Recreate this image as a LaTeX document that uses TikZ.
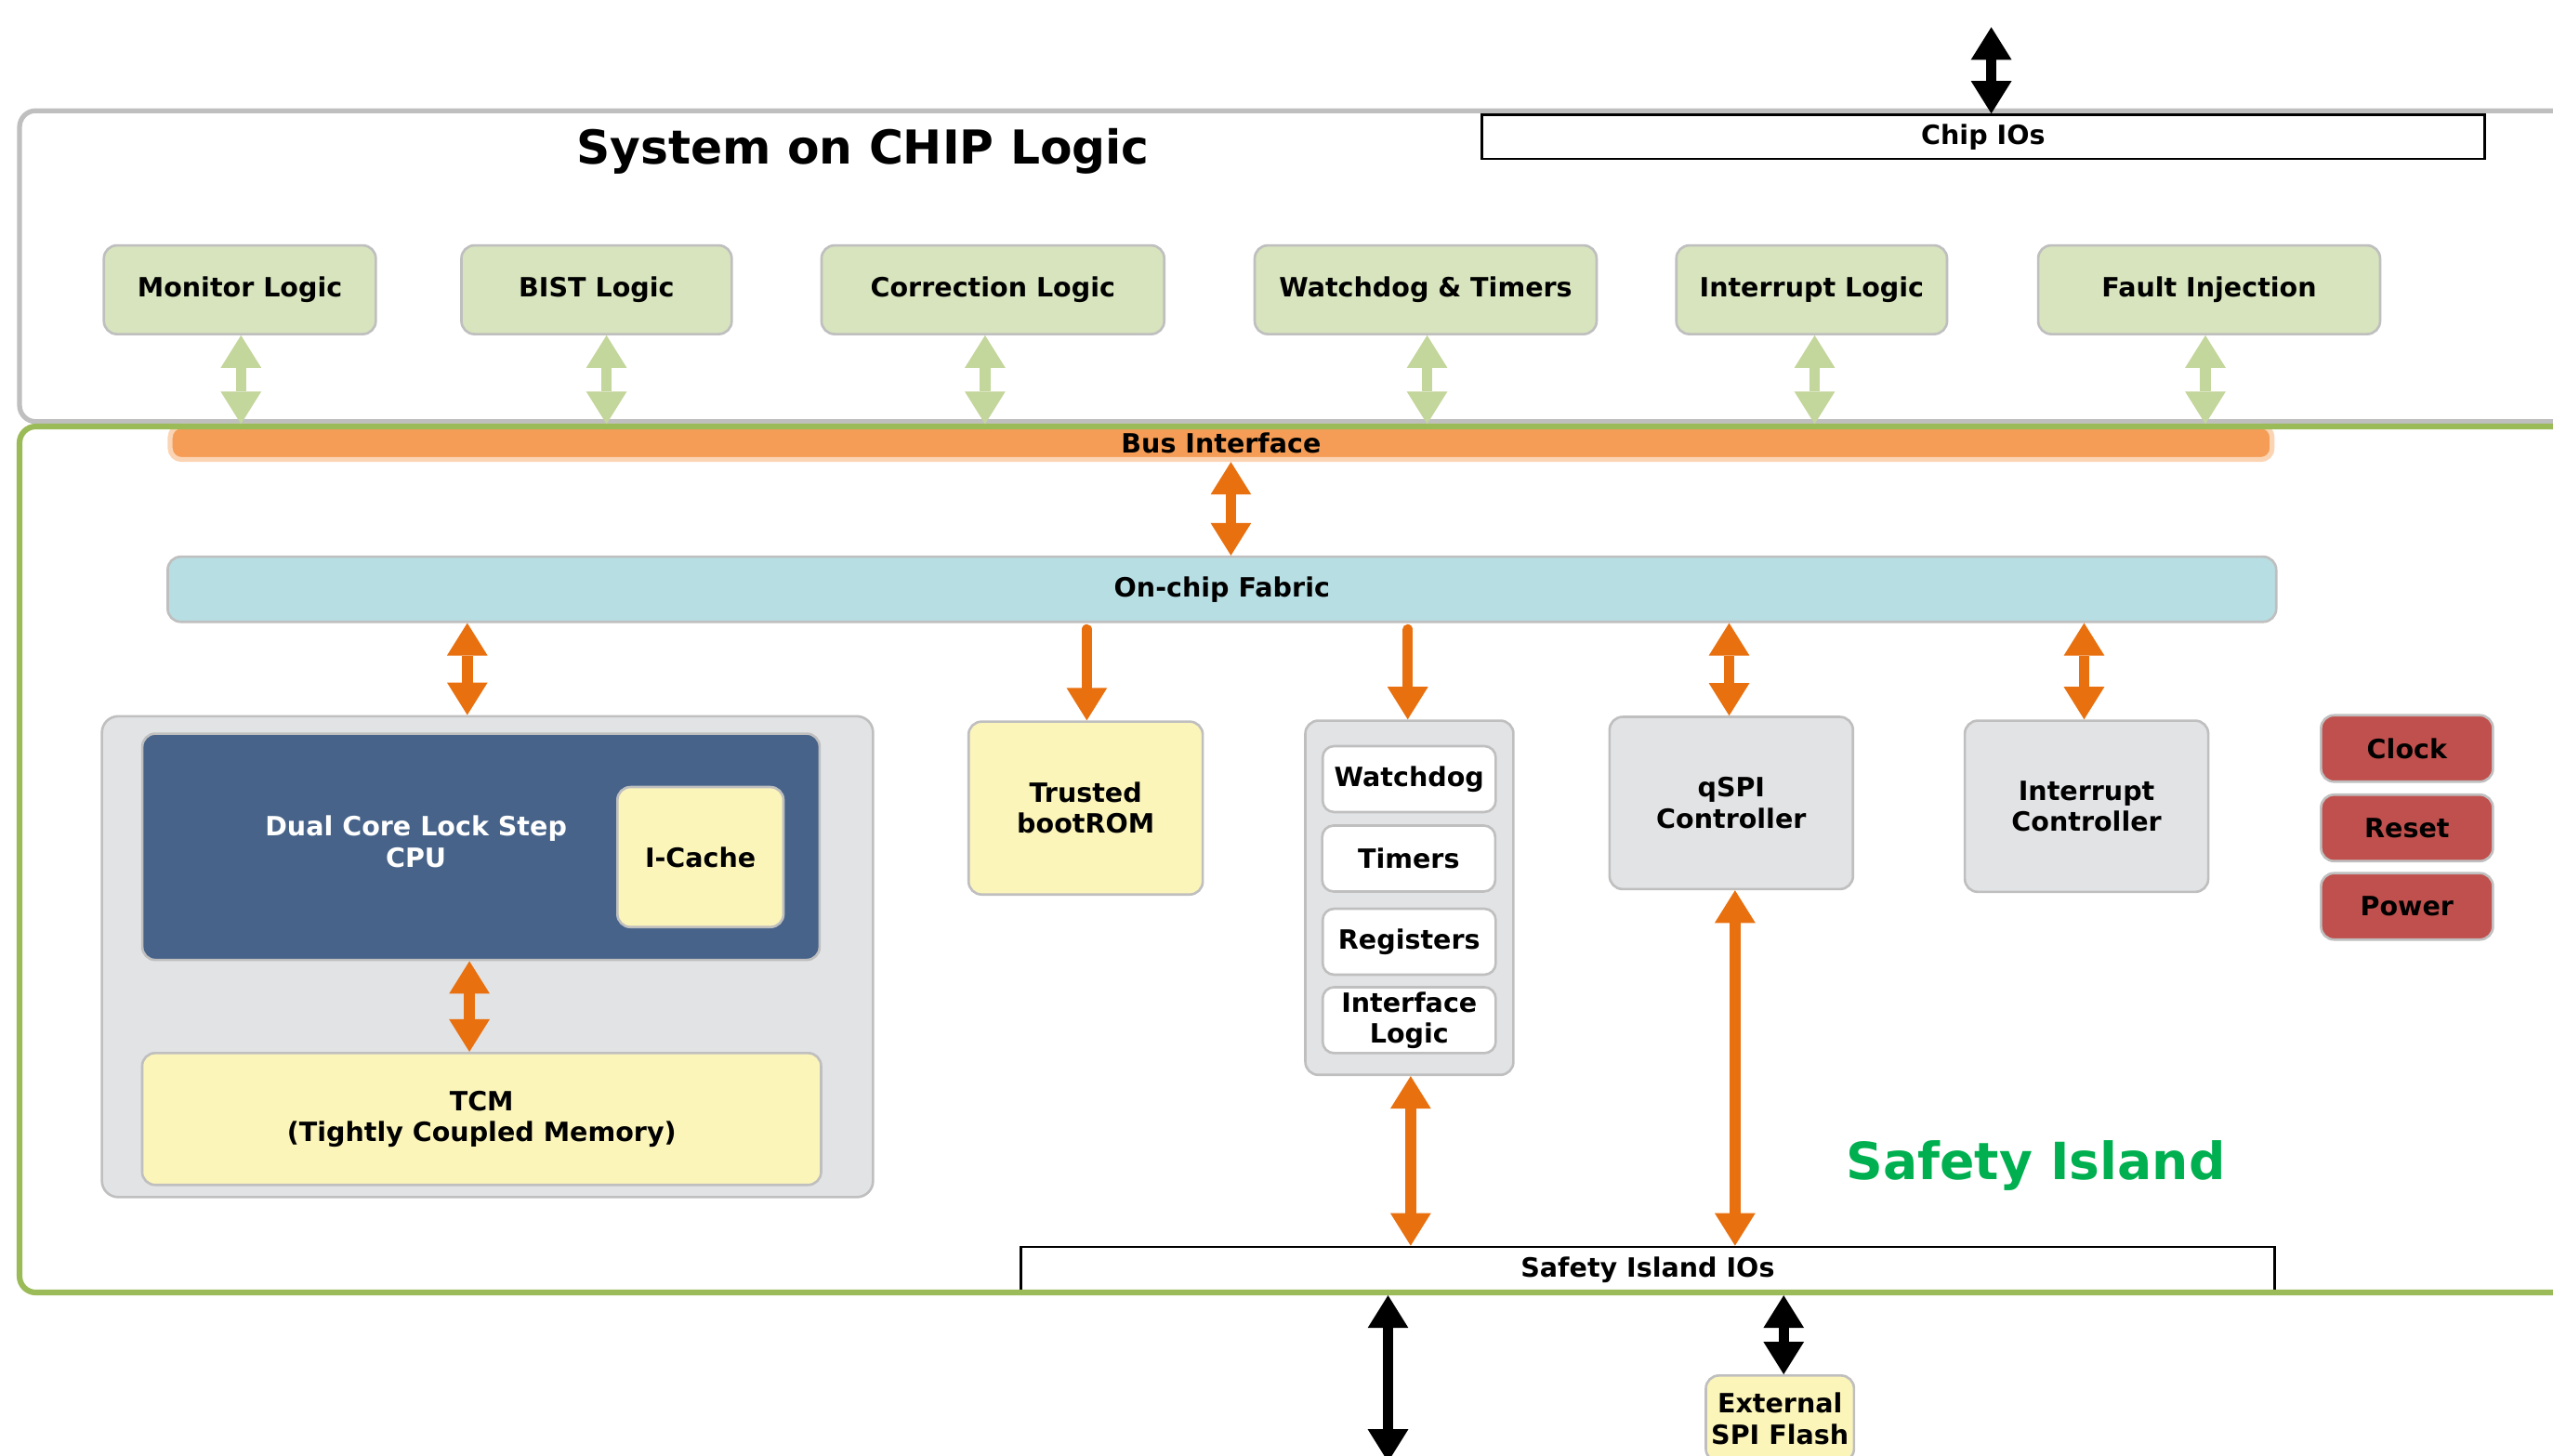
\documentclass[tikz,border=0pt]{standalone}
\usepackage{fontspec}
\setmainfont{DejaVu Sans}
\usetikzlibrary{arrows.meta}
\definecolor{bgray}{HTML}{BFBFBF}
\definecolor{lgreen}{HTML}{D7E4BD}
\definecolor{agreen}{HTML}{C3D69B}
\definecolor{sigreen}{HTML}{9BBB59}
\definecolor{busor}{HTML}{F59D56}
\definecolor{busol}{HTML}{FBD4B4}
\definecolor{aor}{HTML}{E8700F}
\definecolor{fab}{HTML}{B7DEE3}
\definecolor{cgray}{HTML}{E2E3E5}
\definecolor{cpub}{HTML}{476389}
\definecolor{yel}{HTML}{FCF5BA}
\definecolor{redb}{HTML}{C0504D}
\definecolor{sitext}{HTML}{00B050}
\newcommand\lblfont{\bfseries\fontsize{16.3}{19}\selectfont}
\newcommand\ttlfont{\bfseries\fontsize{28.7}{34}\selectfont}
\newcommand\sifont{\bfseries\fontsize{31.5}{36}\selectfont}
\begin{document}
\begin{tikzpicture}[x=1pt,y=-1pt,
  box/.style={draw=bgray, line width=1.5pt, rounded corners=8pt, font=\lblfont, align=center, inner sep=0pt},
  gbox/.style={box, fill=lgreen, minimum height=54.5pt},
  ybox/.style={box, fill=yel},
  cbox/.style={box, fill=cgray},
  wbox/.style={box, fill=white, rounded corners=7pt, minimum width=106.3pt, minimum height=40.5pt},
  rbox/.style={box, fill=redb, minimum width=105.6pt, minimum height=40.8pt},
  iobox/.style={draw=black, line width=1.5pt, fill=white, font=\lblfont, inner sep=0pt},
  darr/.style={line width=6.5pt, arrows={Triangle[width=25pt,length=20pt,line width=0pt]-Triangle[width=25pt,length=20pt,line width=0pt]}},
  sarr/.style={line width=6.5pt, line cap=round, shorten <=4pt, arrows={-Triangle[width=25pt,length=20pt,line width=0pt]}}
]
\useasboundingbox (0,0) rectangle (1568,894);

% System on chip container
\node[draw=bgray, line width=3pt, rounded corners=10pt, minimum width=1588pt, minimum height=191pt] (soc) at (806,163.5) {};
\node[font=\ttlfont, anchor=base] (title) at (530,100.8) {System on CHIP Logic};
\node[iobox, minimum width=616pt, minimum height=27pt] (chipio) at (1218,84) {Chip IOs};

\node[gbox, minimum width=167pt] (mon) at (147.3,178) {Monitor Logic};
\node[gbox, minimum width=166pt] (bist) at (366.4,178) {BIST Logic};
\node[gbox, minimum width=210.5pt] (corr) at (609.8,178) {Correction Logic};
\node[gbox, minimum width=210pt] (wdt) at (875.6,178) {Watchdog \& Timers};
\node[gbox, minimum width=166.3pt] (intl) at (1112.7,178) {Interrupt Logic};
\node[gbox, minimum width=210pt] (fault) at (1356.8,178) {Fault Injection};

% Bus interface
\node[draw=busol, fill=busor, line width=3pt, rounded corners=7pt, minimum width=1291pt, minimum height=20.6pt, font=\lblfont, inner sep=0pt] (bus) at (750,272) {Bus Interface};

% Safety island content
\node[box, fill=fab, minimum width=1295pt, minimum height=40pt] (fabric) at (750.5,362) {On-chip Fabric};

\node[cbox, rounded corners=10pt, minimum width=473.6pt, minimum height=295.4pt] (cpuc) at (299.4,587.7) {};
\node[box, fill=cpub, minimum width=416pt, minimum height=139pt] (cpu) at (295.4,520.2) {};
\node[font=\lblfont, text=white, align=center, inner sep=0pt] (cputxt) at (255.5,517) {Dual Core Lock Step\\CPU};
\node[ybox, minimum width=102pt, minimum height=86pt] (icache) at (430.2,526.5) {I-Cache};
\node[ybox, minimum width=417pt, minimum height=81pt] (tcm) at (295.8,687.4) {TCM\\(Tightly Coupled Memory)};

\node[ybox, minimum width=143.8pt, minimum height=106.2pt] (boot) at (666.8,496.4) {Trusted\\bootROM};

\node[cbox, minimum width=127.8pt, minimum height=217.6pt] (wdc) at (865.6,551.5) {};
\node[wbox] (wd) at (865.5,478.6) {Watchdog};
\node[wbox] (tim) at (865.2,527.4) {Timers};
\node[wbox] (reg) at (865.5,578.5) {Registers};
\node[wbox] (ifl) at (865.5,626.7) {Interface\\Logic};

\node[cbox, minimum width=149.5pt, minimum height=105.8pt] (qspi) at (1063.3,493.3) {qSPI\\Controller};
\node[cbox, minimum width=149.5pt, minimum height=105.2pt] (intc) at (1281.5,495.3) {Interrupt\\Controller};

\node[rbox] (clk) at (1478.3,459.8) {Clock};
\node[rbox] (rst) at (1478.3,508.6) {Reset};
\node[rbox] (pwr) at (1478.3,556.8) {Power};

\node[font=\sifont, text=sitext, anchor=base] (sitxt) at (1250.3,724.6) {Safety Island};

\node[iobox, minimum width=770pt, minimum height=28pt] (sio) at (1012,780) {Safety Island IOs};

% Safety island border
\node[draw=sigreen, line width=3.5pt, rounded corners=10pt, minimum width=1588pt, minimum height=532pt] (si) at (806,528) {};

\node[ybox, minimum width=91pt, minimum height=53pt] (flash) at (1093.2,871.5) {External\\SPI Flash};

% Green arrows
\draw[darr, agreen] (148,0 |- mon.south) -- (148,0 |- soc.south);
\draw[darr, agreen] (372.5,0 |- bist.south) -- (372.5,0 |- soc.south);
\draw[darr, agreen] (605,0 |- corr.south) -- (605,0 |- soc.south);
\draw[darr, agreen] (876.5,0 |- wdt.south) -- (876.5,0 |- soc.south);
\draw[darr, agreen] (1114.5,0 |- intl.south) -- (1114.5,0 |- soc.south);
\draw[darr, agreen] (1354.5,0 |- fault.south) -- (1354.5,0 |- soc.south);

% Orange arrows
\draw[darr, aor] (756,0 |- bus.south) -- (756,0 |- fabric.north);
\draw[darr, aor] (287,0 |- fabric.south) -- (287,0 |- cpuc.north);
\draw[sarr, aor] (667.5,0 |- fabric.south) -- (667.5,0 |- boot.north);
\draw[sarr, aor] (864.6,0 |- fabric.south) -- (864.6,0 |- wdc.north);
\draw[darr, aor] (1062,0 |- fabric.south) -- (1062,0 |- qspi.north);
\draw[darr, aor] (1280,0 |- fabric.south) -- (1280,0 |- intc.north);
\draw[darr, aor] (288.3,0 |- cpu.south) -- (288.3,0 |- tcm.north);
\draw[darr, aor] (866.4,0 |- wdc.south) -- (866.4,0 |- sio.north);
\draw[darr, aor] (1065.6,0 |- qspi.south) -- (1065.6,0 |- sio.north);

% Black arrows
\coordinate (topend) at (1223,16.7);
\coordinate (botend) at (852.5,898);
\draw[darr, black] (topend) -- (topend |- chipio.north);
\draw[darr, black] (botend |- si.south) -- (botend);
\draw[darr, black] (1095.5,0 |- si.south) -- (1095.5,0 |- flash.north);
\end{tikzpicture}
\end{document}
